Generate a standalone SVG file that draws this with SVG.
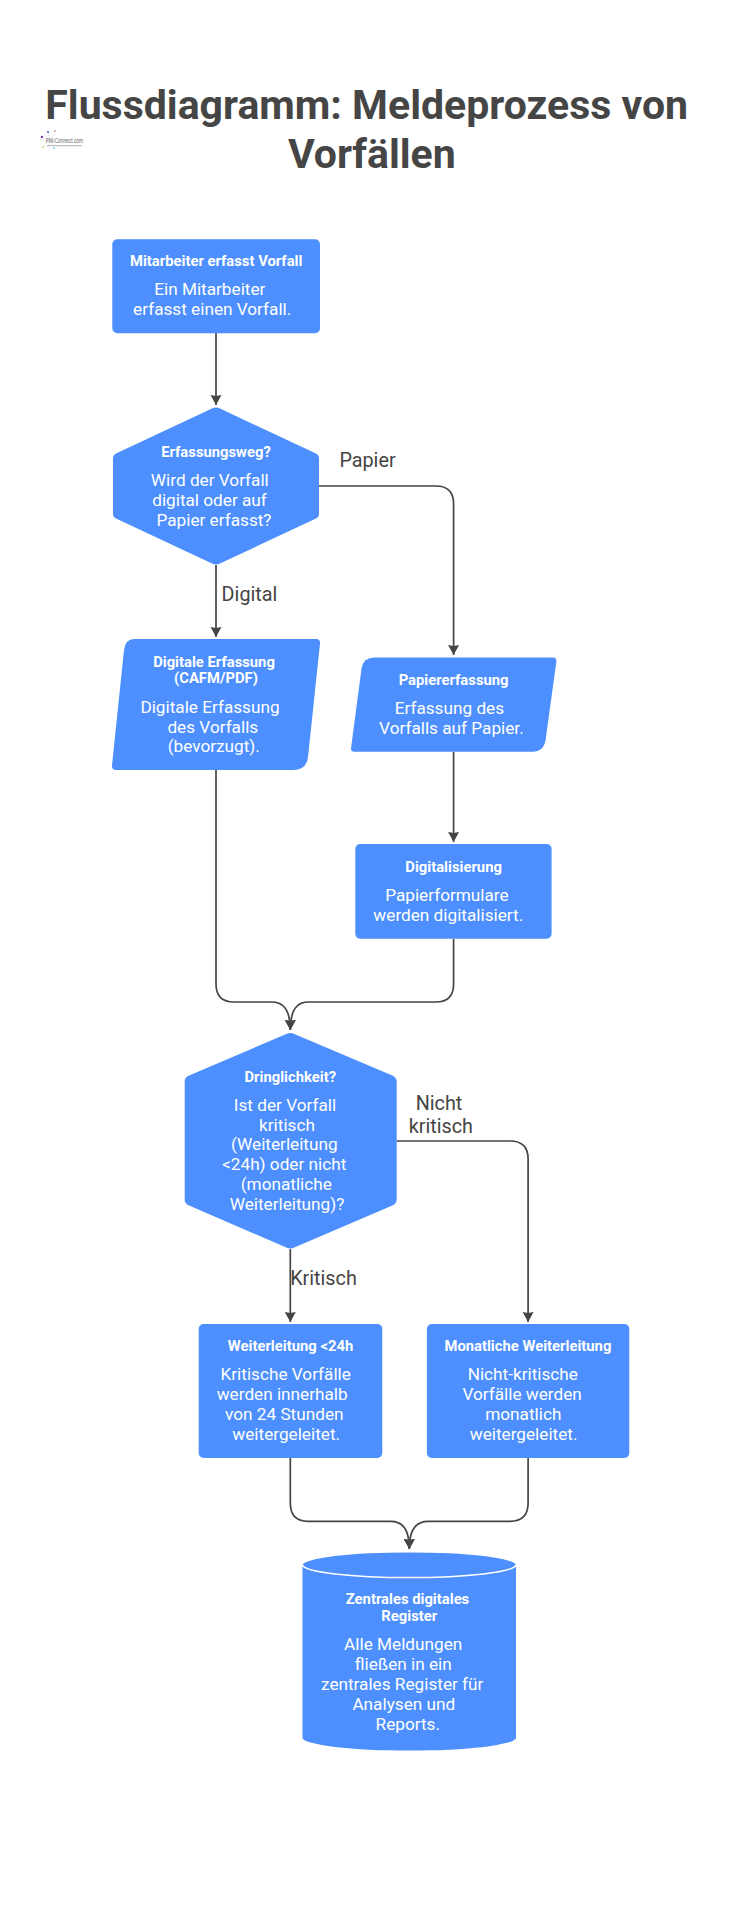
<svg xmlns="http://www.w3.org/2000/svg" width="745" height="1920" viewBox="0 0 745 1920">
<style>
text{font-family:Roboto,"Liberation Sans",sans-serif;text-anchor:middle}
.title{font-size:41px;font-weight:700;fill:#454545}
.h{font-size:14.800px;font-weight:700;fill:#fff}
.b{font-size:17.200px;fill:#fff}
.l{font-size:19.800px;fill:#454545}
.n{fill:#4d8ffe}
.c{fill:none;stroke:#454545;stroke-width:1.700}
.lg{font-family:"Liberation Sans",sans-serif;fill:#666;text-anchor:start}
</style>
<defs><marker id="a" markerUnits="userSpaceOnUse" markerWidth="12" markerHeight="12" refX="10" refY="6" orient="auto"><path d="M0 0.500L10 6L0 11.500L1 6Z" fill="#454545"/></marker></defs>
<rect width="745" height="1920" fill="#fff"/>
<g id="title"><text class="title" x="366.700" y="119">Flussdiagramm: Meldeprozess von</text><text class="title" x="371.800" y="168.300">Vorfällen</text></g>
<g id="logo"><g fill="none" stroke="#d5d8e0" stroke-width="0.600"><path d="M49 131L49 149M40 140H56M43 134L55 146M55 134L43 146"/></g><circle cx="42" cy="137" r="1.200" fill="#7a3fb0"/><circle cx="48" cy="132" r="1" fill="#3a6fc0"/><circle cx="55" cy="131" r="1" fill="#e090a8"/><circle cx="43" cy="147" r="1" fill="#e8d060"/><circle cx="54" cy="148" r="1" fill="#90c8e8"/><text class="lg" x="46" y="142.700" font-size="7.500" textLength="37" lengthAdjust="spacingAndGlyphs">FM-Connect.com</text><rect x="47" y="145" width="35" height="1.200" fill="#bbb"/></g>
<g id="connectors">
<path class="c" marker-end="url(#a)" d="M216 333V405"/>
<path class="c" marker-end="url(#a)" d="M216 565V637"/>
<path class="c" marker-end="url(#a)" d="M319 486H436Q453.600 486 453.600 504V655"/>
<path class="c" marker-end="url(#a)" d="M453.600 752V842"/>
<path class="c" marker-end="url(#a)" d="M216 770V984Q216 1002 234 1002H272Q290.300 1002 290.300 1030"/>
<path class="c" marker-end="url(#a)" d="M453.600 939V984Q453.600 1002 436 1002H308Q290.300 1002 290.300 1030"/>
<path class="c" marker-end="url(#a)" d="M290.300 1249V1322"/>
<path class="c" marker-end="url(#a)" d="M396.700 1141H510Q528.100 1141 528.100 1159V1322"/>
<path class="c" marker-end="url(#a)" d="M290.300 1458V1503Q290.300 1521.300 308 1521.300H391Q409.300 1521.300 409.300 1549"/>
<path class="c" marker-end="url(#a)" d="M528.100 1458V1503Q528.100 1521.300 510 1521.300H428Q409.300 1521.300 409.300 1549"/>
<g id="labels"><text class="l" x="367.500" y="466.700">Papier</text><text class="l" x="249.500" y="600.700">Digital</text><text class="l" x="439" y="1110">Nicht</text><text class="l" x="440.800" y="1133">kritisch</text><text class="l" x="323.500" y="1285">Kritisch</text></g>
</g>
<g id="n1"><rect class="n" x="112.300" y="239.300" width="207.700" height="94" rx="5"/><text class="h" x="216.200" y="266">Mitarbeiter erfasst Vorfall</text><text class="b" x="209.800" y="295">Ein Mitarbeiter</text><text class="b" x="212.200" y="315">erfasst einen Vorfall.</text></g>
<g id="n2"><path class="n" d="M212 408.500Q216 406.500 220 408.500L316 453.500Q319 455 319 458.500V513.500Q319 517 316 518.500L220 563.500Q216 565.500 212 563.500L116 518.500Q113 517 113 513.500V458.500Q113 455 116 453.500Z"/><text class="h" x="216" y="456.700">Erfassungsweg?</text><text class="b" x="209.800" y="486">Wird der Vorfall</text><text class="b" x="209.500" y="506">digital oder auf</text><text class="b" x="214" y="526">Papier erfasst?</text></g>
<g id="n3"><path class="n" d="M134 639H316Q320.500 639 320 643.500L308 757Q306.500 770 293 770H116Q111.500 770 112 765.500L124 650Q125.500 639 134 639Z"/><text class="h" x="214" y="666.700">Digitale Erfassung</text><text class="h" x="216" y="683.300">(CAFM/PDF)</text><text class="b" x="210" y="712.700">Digitale Erfassung</text><text class="b" x="212.800" y="732.700">des Vorfalls</text><text class="b" x="213.800" y="752.300">(bevorzugt).</text></g>
<g id="n4" transform="translate(-0.400 0)"><path class="n" d="M375 657.500H553Q557.300 657.500 556.700 662L546 740Q544 751.700 533 751.700H355Q351 751.700 351.500 747.500L362 668Q363.500 657.500 375 657.500Z"/><text class="h" x="454" y="685">Papiererfassung</text><text class="b" x="449.800" y="714">Erfassung des</text><text class="b" x="451.800" y="734">Vorfalls auf Papier.</text></g>
<g id="n5" transform="translate(-0.400 0)"><rect class="n" x="355.700" y="844" width="196.300" height="94.700" rx="5"/><text class="h" x="454" y="871.700">Digitalisierung</text><text class="b" x="447.300" y="900.700">Papierformulare</text><text class="b" x="448.700" y="920.700">werden digitalisiert.</text></g>
<g id="n6"><path class="n" d="M286.300 1034Q290.300 1032 294.300 1034L393.500 1076Q396.700 1078 396.700 1081V1200Q396.700 1203 393.500 1205L294.300 1247.500Q290.300 1249.500 286.300 1247.500L188 1205Q184.700 1203 184.700 1200V1081Q184.700 1078 188 1076Z"/><text class="h" x="290.300" y="1081.700">Dringlichkeit?</text><text class="b" x="285" y="1110.700">Ist der Vorfall</text><text class="b" x="287" y="1130.500">kritisch</text><text class="b" x="284.300" y="1150.300">(Weiterleitung</text><text class="b" x="284.200" y="1170.200">&lt;24h) oder nicht</text><text class="b" x="286.300" y="1190">(monatliche</text><text class="b" x="287" y="1209.800">Weiterleitung)?</text></g>
<g id="n7"><rect class="n" x="198.700" y="1324" width="183.600" height="134" rx="5"/><text class="h" x="290.500" y="1351">Weiterleitung &lt;24h</text><text class="b" x="285.700" y="1380">Kritische Vorfälle</text><text class="b" x="282.200" y="1400">werden innerhalb</text><text class="b" x="284.300" y="1420">von 24 Stunden</text><text class="b" x="286.200" y="1440">weitergeleitet.</text></g>
<g id="n8" transform="translate(-0.400 0)"><rect class="n" x="427.300" y="1324" width="202.400" height="134" rx="5"/><text class="h" x="528.300" y="1351">Monatliche Weiterleitung</text><text class="b" x="523.200" y="1380">Nicht-kritische</text><text class="b" x="522.500" y="1400">Vorfälle werden</text><text class="b" x="523.700" y="1420">monatlich</text><text class="b" x="524" y="1440">weitergeleitet.</text></g>
<g id="n9"><path class="n" d="M302.500 1565A106.800 13 0 0 1 516 1565V1738A106.800 13 0 0 1 302.500 1738Z"/><path d="M302.500 1565A106.800 13 0 0 0 516 1565" fill="none" stroke="#fff" stroke-width="1.500"/><text class="h" x="407.500" y="1604">Zentrales digitales</text><text class="h" x="409.300" y="1620.700">Register</text><text class="b" x="403.200" y="1650">Alle Meldungen</text><text class="b" x="403.300" y="1670">fließen in ein</text><text class="b" x="402.200" y="1690">zentrales Register für</text><text class="b" x="403.800" y="1709.700">Analysen und</text><text class="b" x="407.800" y="1729.500">Reports.</text></g>
</svg>
